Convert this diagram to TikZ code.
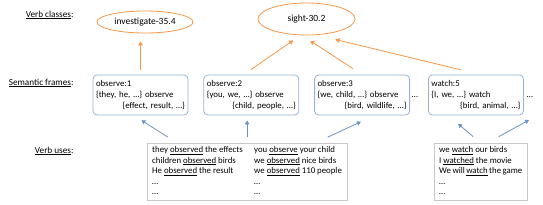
\documentclass[tikz,border=0pt]{standalone}
\usepackage{fontspec}
\setmainfont{Carlito}
\usetikzlibrary{arrows.meta,positioning,shapes.geometric,calc}
\definecolor{ClsOrange}{HTML}{F79646}
\definecolor{FrmBlue}{HTML}{95B3D7}
\definecolor{UseBlue}{HTML}{6A93C8}
\definecolor{UseGray}{HTML}{C8C8C8}
\newcommand{\vb}[1]{\underline{\smash{#1}}}

\begin{document}
\begin{tikzpicture}[x=1pt, y=-1pt, node distance=15pt, every node/.style={font=\fontsize{8.8}{10.5}\selectfont}, lbl/.style={anchor=east,font=\fontsize{9.2}{11}\selectfont}, cls/.style={ellipse,draw=ClsOrange,thick,inner sep=0pt,font=\fontsize{9.5}{11}\selectfont}, frm/.style={draw=FrmBlue,thick,rounded corners=4pt,align=left,text width=89pt,inner sep=3pt,minimum height=40pt,font=\fontsize{8.8}{11}\selectfont}, ubox/.style={draw=UseGray,inner xsep=5pt,inner ysep=2pt,minimum height=55pt,anchor=north west}, clsarr/.style={-{Triangle[length=4pt,width=4.5pt]},thick,ClsOrange}, usearr/.style={-{Triangle[length=4pt,width=4.5pt]},thick,UseBlue}]
\useasboundingbox (0,0) rectangle (543,204);
\node[lbl] (lcls) at (77,16) {\vb{Verb classes}:};
\node[lbl] (lfrm) at (77,84) {\vb{Semantic frames}:};
\node[lbl] (luse) at (77,152) {\vb{Verb uses}:};
\node[cls,minimum width=96pt,minimum height=22pt] (inv) at (145,22) {investigate-35.4};
\node[cls,minimum width=97pt,minimum height=32pt] (sight) at (306.5,19) {sight-30.2};
\node[frm] (f1) at (140.5,95) {observe:1\\\{they, he, \dots\} observe\\\mbox{}\hfill\{effect, result, \dots\}};
\node[frm,right=of f1] (f2) {observe:2\\\{you, we, \dots\} observe\\\mbox{}\hfill\{child, people, \dots\}};
\node[frm,right=of f2] (f3) {observe:3\\\{we, child, \dots\} observe\\\mbox{}\hfill\{bird, wildlife, \dots\}};
\node[frm,right=18pt of f3] (f4) {watch:5\\\{I, we, \dots\} watch\\\mbox{}\hfill\{bird, animal, \dots\}};
\node (d1) at (415,97) {\dots};
\node (d2) at (530,97) {\dots};
\coordinate (nxt) at (529,120);
\node[ubox] (u1) at (147,143) {\begin{tabular}{@{}p{102pt}@{}l@{}}
they \vb{observed} the effects & you \vb{observe} your child\\
children \vb{observed} birds & we \vb{observed} nice birds\\
He \vb{observed} the result & we \vb{observed} 110 people\\
\dots & \dots\\
\dots & \dots
\end{tabular}};
\node[ubox] (u2) at (434,143) {\begin{tabular}{@{}p{83pt}@{}}
we \vb{watch} our birds\\
I \vb{watched} the movie\\
We will \vb{watch} the game\\
\dots\\
\dots
\end{tabular}};
% classes
\draw[clsarr,shorten <=5pt,shorten >=8pt] (f1.north) -- (f1.north |- inv.south);
\draw[clsarr,shorten <=9pt,shorten >=9pt] ($(f2.north west)!0.42!(f2.north east)$) -- (sight.250);
\draw[clsarr,shorten <=11pt,shorten >=10pt] (f3.north) -- (sight.254);
\draw[clsarr,shorten <=20pt,shorten >=19pt] ($(f4.north west)!0.55!(f4.north east)$) -- (sight.303);
% uses
\draw[usearr,shorten <=11pt,shorten >=9pt] ($(u1.north west)!0.15!(u1.north east)$) -- ($(f1.south west)!0.43!(f1.south east)$);
\draw[usearr,shorten <=6pt,shorten >=5pt] (u1.north) -- (u1.north |- f2.south);
\draw[usearr,shorten <=14pt,shorten >=15pt] ($(u1.north west)!0.84!(u1.north east)$) -- ($(f3.south west)!0.63!(f3.south east)$);
\draw[usearr,shorten <=10pt,shorten >=13pt] (u2.north) -- ($(f4.south west)!0.21!(f4.south east)$);
\draw[usearr,shorten <=13pt] ($(u2.north west)!0.57!(u2.north east)$) -- (nxt);
\end{tikzpicture}
\end{document}
